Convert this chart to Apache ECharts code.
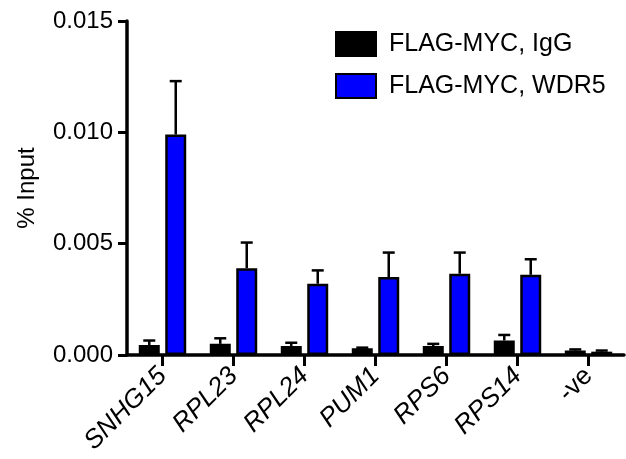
<!DOCTYPE html>
<html>
<head>
<meta charset="utf-8">
<script src="https://cdn.jsdelivr.net/npm/echarts@6/dist/echarts.min.js"></script>
<style>
html,body{margin:0;padding:0;background:#fff;}
#chart{width:626px;height:459px;}
</style>
</head>
<body>
<div id="chart"></div>
<script>
const categories = ['SNHG15', 'RPL23', 'RPL24', 'PUM1', 'RPS6', 'RPS14', '-ve'];
const seriesNames = ['FLAG-MYC, IgG', 'FLAG-MYC, WDR5'];
const iggValues = [0.00045, 0.0005, 0.0004, 0.0003, 0.0004, 0.00065, 0.0002];
const iggErrors = [0.0002, 0.00025, 0.00015, 0.00003, 0.0001, 0.00025, 0.00005];
const wdr5Values = [0.0099, 0.0039, 0.0032, 0.0035, 0.00365, 0.0036, 0.00015];
const wdr5Errors = [0.0024, 0.00115, 0.0006, 0.0011, 0.00095, 0.0007, 0.00005];
const yTicks = [0, 0.005, 0.010, 0.015];

const FONT = '"Liberation Sans", Arial, Helvetica, sans-serif';
const BAR_W = 21;
const BAR_GAP = 0.26;
const OFFSET = (BAR_W + BAR_W * BAR_GAP) / 2;

function errData(vals, errs) {
  return vals.map((v, i) => [i, v, errs[i]]);
}
function errRender(offset) {
  return function (params, api) {
    const x = api.value(0);
    const v = api.value(1);
    const e = api.value(2);
    const p0 = api.coord([x, v]);
    const p1 = api.coord([x, v + e]);
    const cx = p0[0] + offset;
    const half = 6;
    return {
      type: 'group',
      children: [
        { type: 'line', shape: { x1: cx, y1: p0[1], x2: cx, y2: p1[1] }, style: { stroke: '#000', lineWidth: 2.5 } },
        { type: 'line', shape: { x1: cx - half, y1: p1[1], x2: cx + half, y2: p1[1] }, style: { stroke: '#000', lineWidth: 2.5 } }
      ]
    };
  };
}

const chart = echarts.init(document.getElementById('chart'), null, { renderer: 'canvas' });
chart.setOption({
  animation: false,
  backgroundColor: '#fff',
  textStyle: { fontFamily: FONT },
  grid: { left: 127, right: 2, top: 21, bottom: 104, containLabel: false },
  legend: {
    orient: 'vertical',
    left: 330,
    top: 26,
    icon: 'rect',
    itemWidth: 40,
    itemHeight: 24,
    itemGap: 16,
    data: seriesNames,
    textStyle: { fontSize: 25, color: '#000', fontFamily: FONT, padding: [0, 0, 0, 8] }
  },
  xAxis: {
    type: 'category',
    data: categories.map(c => c === '-ve'
      ? { value: c, textStyle: { fontStyle: 'normal' } }
      : { value: c }),
    boundaryGap: true,
    axisLine: { lineStyle: { color: '#000', width: 3.5 } },
    axisTick: { show: true, alignWithLabel: true, length: 11, lineStyle: { color: '#000', width: 3 } },
    axisLabel: {
      rotate: 45,
      fontSize: 26,
      fontStyle: 'italic',
      color: '#000',
      margin: 17,
      fontFamily: FONT,
      interval: 0
    }
  },
  yAxis: {
    type: 'value',
    min: yTicks[0],
    max: yTicks[yTicks.length - 1],
    interval: 0.005,
    name: '% Input',
    nameLocation: 'middle',
    nameGap: 88,
    nameTextStyle: { fontSize: 24, color: '#000', fontFamily: FONT },
    axisLine: { show: true, lineStyle: { color: '#000', width: 3.5 } },
    axisTick: { show: true, length: 9, lineStyle: { color: '#000', width: 3 } },
    splitLine: { show: false },
    axisLabel: {
      fontSize: 24,
      color: '#000',
      margin: 14,
      fontFamily: FONT,
      formatter: v => v.toFixed(3)
    }
  },
  series: [
    {
      name: seriesNames[0],
      type: 'bar',
      data: iggValues,
      barWidth: BAR_W,
      barGap: (BAR_GAP * 100) + '%',
      itemStyle: { color: '#000', borderColor: '#000', borderWidth: 2 }
    },
    {
      name: seriesNames[1],
      type: 'bar',
      data: wdr5Values,
      barWidth: BAR_W,
      barGap: (BAR_GAP * 100) + '%',
      itemStyle: { color: '#0000ff', borderColor: '#000', borderWidth: 2.5 }
    },
    {
      type: 'custom',
      name: 'err0',
      data: errData(iggValues, iggErrors),
      renderItem: errRender(-OFFSET),
      encode: { x: 0, y: 1 },
      z: 3,
      silent: true
    },
    {
      type: 'custom',
      name: 'err1',
      data: errData(wdr5Values, wdr5Errors),
      renderItem: errRender(OFFSET),
      encode: { x: 0, y: 1 },
      z: 3,
      silent: true
    }
  ]
});
</script>
</body>
</html>
